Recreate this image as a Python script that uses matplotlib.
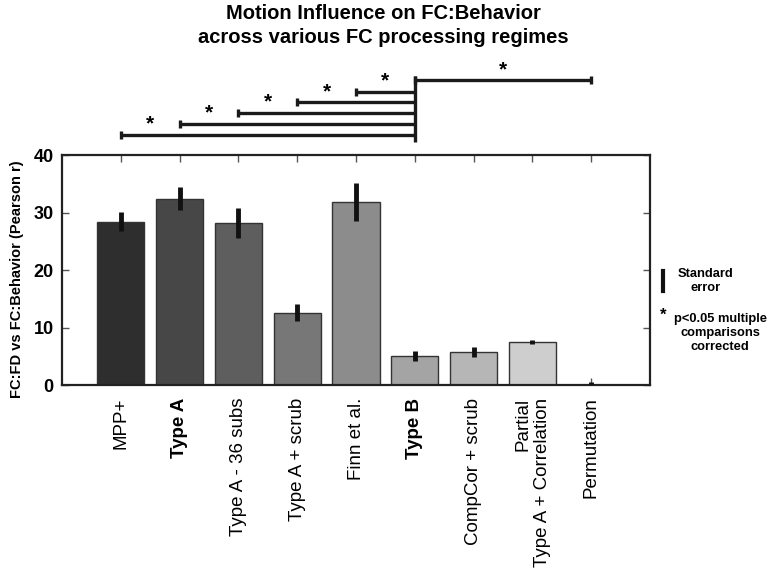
import matplotlib
matplotlib.use("Agg")
import matplotlib.pyplot as plt
import numpy as np

plt.rcParams['font.family'] = ['Liberation Sans', 'DejaVu Sans']

categories = ["MPP+", "Type A", "Type A - 36 subs", "Type A + scrub", "Finn et al.",
              "Type B", "CompCor + scrub", "Partial\nType A + Correlation", "Permutation"]
bold_labels = ["Type A", "Type B"]
values = [28.4, 32.4, 28.2, 12.6, 31.9, 5.0, 5.8, 7.5, 0.0]
errors = [1.65, 2.0, 2.6, 1.45, 3.3, 0.9, 0.9, 0.3, 0.6]
bar_colors = ["#2e2e2e", "#474747", "#5e5e5e", "#777777", "#8c8c8c",
              "#a4a4a4", "#b6b6b6", "#cecece", "#e0e0e0"]
# significant comparisons (category index pairs), all against Type B
comparisons = [(0, 5), (1, 5), (2, 5), (3, 5), (4, 5), (5, 8)]
yticks = [0, 10, 20, 30, 40]

fig = plt.figure(figsize=(7.67, 5.81), dpi=100)
ax = fig.add_axes([0.0808, 0.3373, 0.7667, 0.3959])

x = np.arange(1, len(categories) + 1)
ax.bar(x, values, width=0.8, color=bar_colors, edgecolor="#333333", linewidth=1.0, zorder=2)
ax.errorbar(x, values, yerr=errors, fmt="none", ecolor="#111111", elinewidth=3.5,
            capsize=0, zorder=3)

ax.set_xlim(0, 10)
ax.set_ylim(0, 40)
ax.set_xticks(x)
ax.set_xticklabels(categories, rotation=90, fontsize=13.5, ha="center", va="top",
                   multialignment="right")
for lbl in ax.get_xticklabels():
    if lbl.get_text() in bold_labels:
        lbl.set_fontweight("bold")
ax.set_yticks(yticks)
ax.set_yticklabels([str(t) for t in yticks], fontsize=13, fontweight="bold")
ax.tick_params(axis="both", direction="in", length=5, width=1.0, top=True, right=True,
               color="#555555")
ax.tick_params(axis="x", pad=9)
ax.tick_params(axis="y", pad=6)
for sp in ax.spines.values():
    sp.set_linewidth(1.6)
    sp.set_color("#222222")

ax.set_ylabel("FC:FD vs FC:Behavior (Pearson r)", fontsize=10.5, fontweight="bold",
              labelpad=6)
ax.yaxis.set_label_coords(-0.064, 0.46)

# significance brackets
levels = [43.5, 45.4, 47.3, 49.2, 51.0, 53.0]
for (i, j), lev in zip(comparisons, levels):
    xa, xb = x[i], x[j]
    ax.plot([xa, xb], [lev, lev], color="#1a1a1a", lw=2.4, clip_on=False,
            solid_capstyle="butt")
    for xx in (xa, xb):
        if xx == x[5] and j != 8:
            continue
        ax.plot([xx, xx], [lev - 0.7, lev + 0.7], color="#1a1a1a", lw=2.4, clip_on=False,
                solid_capstyle="butt")
    ax.text((xa + xb) / 2 if j == 8 else xa + 0.5, lev + 0.2, "*", ha="center",
            va="bottom", fontsize=15, fontweight="bold", clip_on=False)
# shared vertical line at Type B
ax.plot([x[5], x[5]], [42.3, 53.7], color="#1a1a1a", lw=2.4, clip_on=False,
        solid_capstyle="butt")

fig.text(0.5, 0.993, "Motion Influence on FC:Behavior\nacross various FC processing regimes",
         ha="center", va="top", fontsize=14.5, fontweight="bold", linespacing=1.35)

# legend annotations
fig.add_artist(plt.Line2D([663 / 767, 663 / 767], [1 - 271 / 581, 1 - 291 / 581],
                          color="#111111", lw=3, transform=fig.transFigure))
fig.text(706 / 767, 1 - 281 / 581, "Standard\nerror", ha="center", va="center",
         fontsize=9.3, fontweight="bold", linespacing=1.2)
fig.text(663 / 767, 1 - 315 / 581, "*", ha="center", va="center", fontsize=12,
         fontweight="bold")
fig.text(720 / 767, 1 - 333 / 581, "p<0.05 multiple\ncomparisons\ncorrected",
         ha="center", va="center", fontsize=9.3, fontweight="bold", linespacing=1.2)

fig.savefig("out.png", dpi=100)
